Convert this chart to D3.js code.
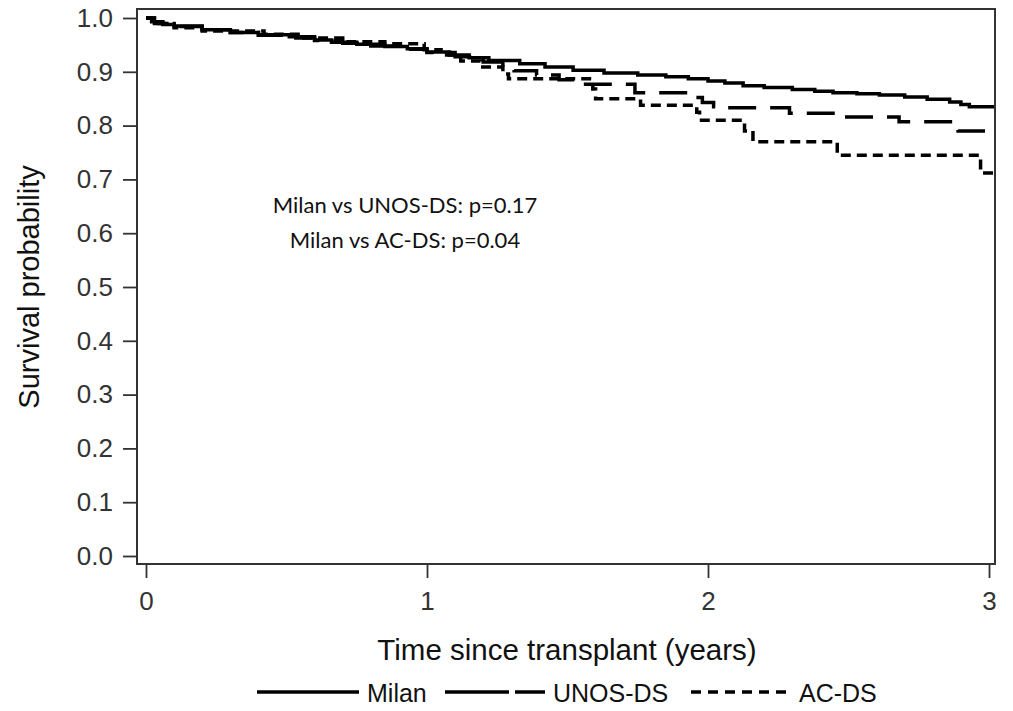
<!DOCTYPE html>
<html>
<head>
<meta charset="utf-8">
<script src="https://cdn.jsdelivr.net/npm/d3@7"></script>
<style>
  body { margin: 0; background: #fff; }
  svg text { font-family: "Liberation Sans", Arial, sans-serif; }
</style>
</head>
<body>
<div id="chart"></div>
<script>
// Chart data.
const xTicks = [0, 1, 2, 3]
const yTicks = [0, 0.1, 0.2, 0.3, 0.4, 0.5, 0.6, 0.7, 0.8, 0.9, 1.0]
const seriesNames = ["Milan", "UNOS-DS", "AC-DS"]
const pValueNotes = ["Milan vs UNOS-DS: p=0.17", "Milan vs AC-DS: p=0.04"]

// Kaplan-Meier steps: [time in years, survival]
const milan = [
  [0, 1.0], [0.02, 0.993], [0.06, 0.988], [0.1, 0.985], [0.2, 0.978], [0.3, 0.973],
  [0.4, 0.969], [0.51, 0.965], [0.6, 0.959], [0.66, 0.955], [0.75, 0.951], [0.85, 0.947],
  [0.93, 0.943], [1.0, 0.937], [1.08, 0.931], [1.15, 0.926], [1.22, 0.921], [1.33, 0.915],
  [1.42, 0.909], [1.52, 0.903], [1.63, 0.898], [1.75, 0.894], [1.85, 0.891], [1.93, 0.887],
  [2.0, 0.883], [2.06, 0.879], [2.125, 0.874], [2.2, 0.871], [2.3, 0.867], [2.38, 0.864],
  [2.445, 0.861], [2.53, 0.859], [2.61, 0.857], [2.7, 0.853], [2.78, 0.849], [2.86, 0.844],
  [2.9, 0.839], [2.93, 0.835], [3.03, 0.835]
]
const unosDs = [
  [0, 1.0], [0.03, 0.99], [0.1, 0.984], [0.2, 0.978], [0.3, 0.973], [0.4, 0.968],
  [0.5, 0.963], [0.6, 0.958], [0.7, 0.953], [0.8, 0.948], [0.9, 0.942], [1.0, 0.936],
  [1.1, 0.928], [1.2, 0.918], [1.27, 0.91], [1.31, 0.902], [1.39, 0.894], [1.47, 0.885],
  [1.53, 0.877], [1.74, 0.861], [1.95, 0.852], [1.98, 0.843], [2.02, 0.835], [2.05, 0.833],
  [2.29, 0.823], [2.48, 0.816], [2.68, 0.807], [2.89, 0.79], [3.03, 0.79]
]
const acDs = [
  [0, 1.0], [0.03, 0.99], [0.1, 0.982], [0.2, 0.976], [0.42, 0.97], [0.55, 0.963],
  [0.7, 0.956], [0.85, 0.952], [0.99, 0.941], [1.05, 0.931], [1.12, 0.92], [1.19, 0.909],
  [1.27, 0.896], [1.29, 0.887], [1.59, 0.868], [1.6, 0.85], [1.76, 0.838], [1.96, 0.825],
  [1.97, 0.81], [2.13, 0.79], [2.16, 0.77], [2.46, 0.745], [2.97, 0.712], [3.03, 0.712]
]

const width = 1013
const height = 711
const frame = {"left": 137, "right": 995, "top": 9, "bottom": 564}

let svg = d3.select("#chart")
    .append("svg")
    .attr("width", width)
    .attr("height", height)

// Scales.
let x = d3.scaleLinear().domain([0, 3]).range([146, 989])
let y = d3.scaleLinear().domain([0, 1]).range([556, 18])

// Axes.
let yAxis = d3.axisLeft(y).tickValues(yTicks).tickFormat(d3.format(".1f")).tickSize(14).tickPadding(10)
let xAxis = d3.axisBottom(x).tickValues(xTicks).tickFormat(d3.format("d")).tickSize(14).tickPadding(14)

let gy = svg.append("g").attr("transform", "translate(" + frame.left + ",0)").call(yAxis)
let gx = svg.append("g").attr("transform", "translate(0," + frame.bottom + ")").call(xAxis)
gy.select(".domain").remove()
gx.select(".domain").remove()
svg.selectAll(".tick line").attr("stroke", "#333").attr("stroke-width", 1.8)
svg.selectAll(".tick text").attr("fill", "#333").style("font-size", "26px")

// Plot frame.
svg.append("rect")
    .attr("x", frame.left)
    .attr("y", frame.top)
    .attr("width", frame.right - frame.left)
    .attr("height", frame.bottom - frame.top)
    .attr("fill", "none")
    .attr("stroke", "#333")
    .attr("stroke-width", 2)

svg.append("clipPath").attr("id", "plotClip")
    .append("rect")
    .attr("x", frame.left + 1)
    .attr("y", frame.top + 1)
    .attr("width", frame.right - frame.left - 2)
    .attr("height", frame.bottom - frame.top - 2)

// Curves.
let line = d3.line()
    .x(function(d) { return x(d[0]); })
    .y(function(d) { return y(d[1]); })
    .curve(d3.curveStepAfter)

let curves = [
    {"data": acDs, "dash": "10,6"},
    {"data": unosDs, "dash": "28,14"},
    {"data": milan, "dash": null}
]
svg.append("g").attr("clip-path", "url(#plotClip)")
    .selectAll("path")
    .data(curves)
    .enter()
    .append("path")
    .attr("d", function(d) { return line(d.data); })
    .attr("fill", "none")
    .attr("stroke", "#000")
    .attr("stroke-width", 3.5)
    .attr("stroke-dasharray", function(d) { return d.dash; })

// p-value annotation.
svg.selectAll(".note")
    .data(pValueNotes)
    .enter()
    .append("text")
    .attr("class", "note")
    .attr("x", 405)
    .attr("y", function(d, i) { return 213 + i * 35; })
    .attr("text-anchor", "middle")
    .style("font-family", "Lato, sans-serif")
    .style("font-size", "22px")
    .attr("fill", "#111")
    .text(function(d) { return d; })

// Axis titles.
svg.append("text")
    .attr("x", 567)
    .attr("y", 660)
    .attr("text-anchor", "middle")
    .style("font-size", "29.5px")
    .attr("fill", "#111")
    .text("Time since transplant (years)")

svg.append("text")
    .attr("transform", "translate(39,287) rotate(-90)")
    .attr("text-anchor", "middle")
    .style("font-size", "29px")
    .attr("fill", "#111")
    .text("Survival probability")

// Legend.
let legendItems = [
    {"name": seriesNames[0], "x1": 257, "x2": 359, "dash": null, "tx": 367},
    {"name": seriesNames[1], "x1": 445, "x2": 545, "dash": "64,6,30", "tx": 553},
    {"name": seriesNames[2], "x1": 691, "x2": 788, "dash": "10,7", "tx": 799}
]
let legend = svg.append("g")
legend.selectAll("line")
    .data(legendItems)
    .enter()
    .append("line")
    .attr("x1", function(d) { return d.x1; })
    .attr("x2", function(d) { return d.x2; })
    .attr("y1", 692)
    .attr("y2", 692)
    .attr("stroke", "#000")
    .attr("stroke-width", 3.5)
    .attr("stroke-dasharray", function(d) { return d.dash; })
legend.selectAll("text")
    .data(legendItems)
    .enter()
    .append("text")
    .attr("x", function(d) { return d.tx; })
    .attr("y", 702)
    .style("font-size", "25px")
    .attr("fill", "#111")
    .text(function(d) { return d.name; })
</script>
</body>
</html>
